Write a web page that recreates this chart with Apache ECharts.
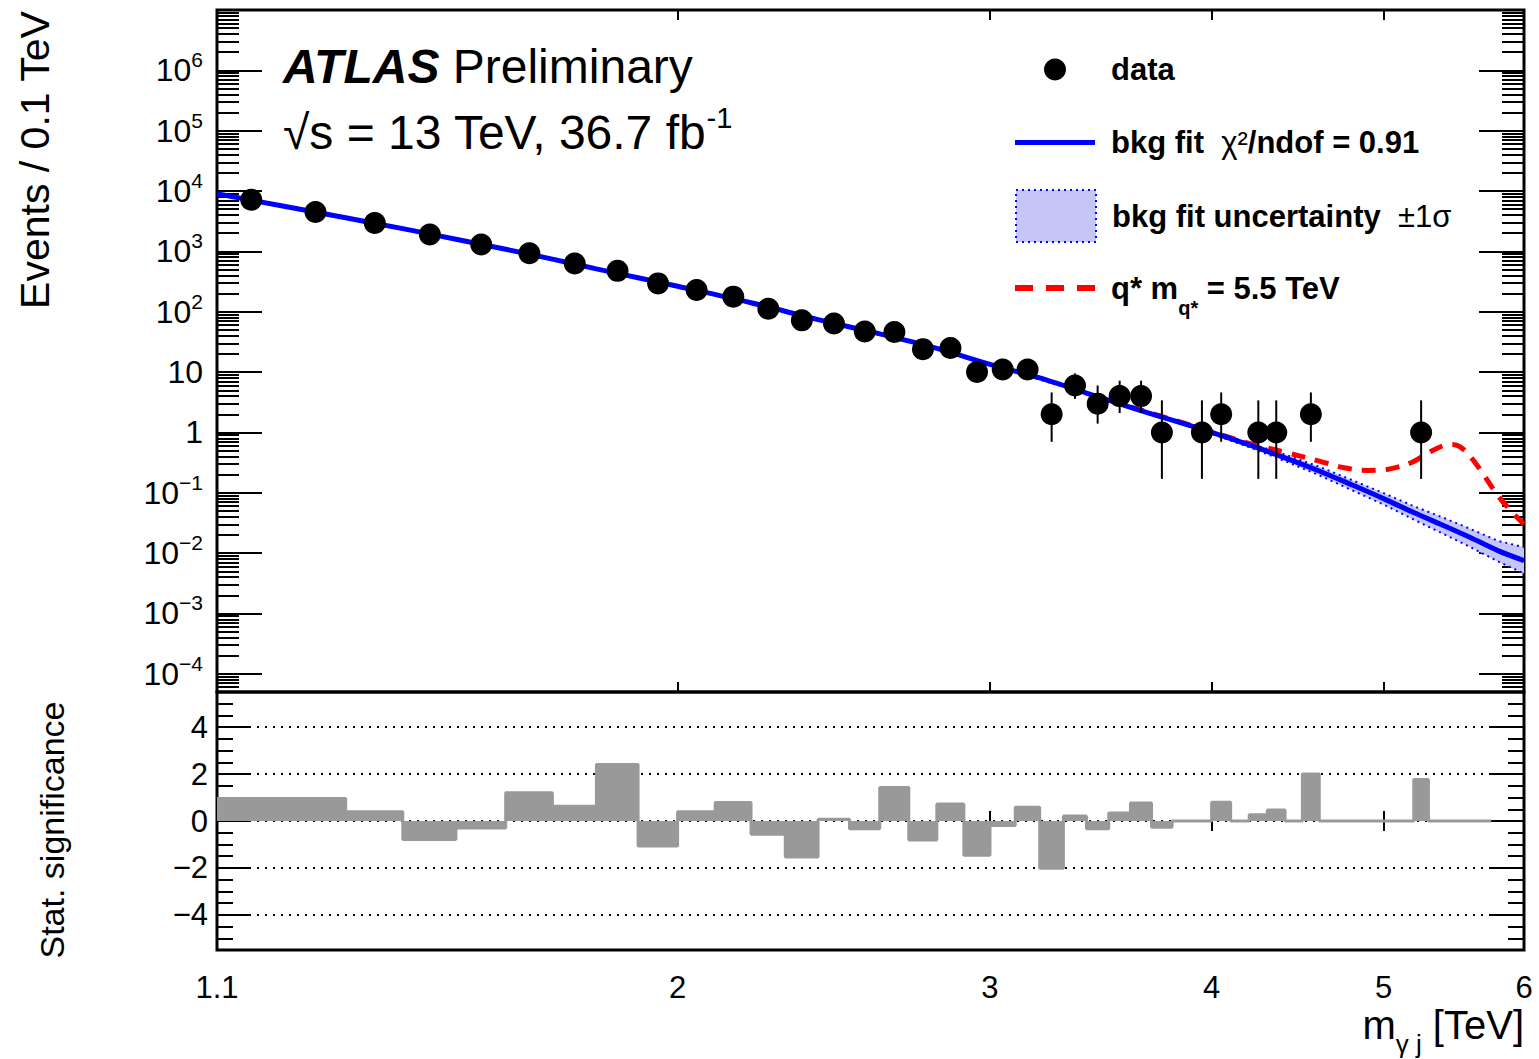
<!DOCTYPE html>
<html>
<head>
<meta charset="utf-8">
<script src="https://cdn.jsdelivr.net/npm/echarts@6/dist/echarts.min.js"></script>
<style>html,body{margin:0;padding:0;background:#fff}#main{width:1539px;height:1059px}</style>
</head>
<body>
<div id="main"></div>
<script>
var FONT = "'Liberation Sans', Arial, Helvetica, sans-serif";

// data points (bin centres, TeV) and event counts
var pointMass = [1.15, 1.25, 1.35, 1.45, 1.55, 1.65, 1.75, 1.85, 1.95, 2.05, 2.15, 2.25, 2.35, 2.45, 2.55, 2.65, 2.75, 2.85, 2.95, 3.05, 3.15, 3.25, 3.35, 3.45, 3.55, 3.65, 3.75, 3.95, 4.05, 4.25, 4.35, 4.55, 5.25];
var pointCounts = [7180, 4490, 2950, 1900, 1300, 934, 630, 476, 295, 229, 178, 112, 72, 64, 47, 46, 24, 25, 10, 11, 11, 2, 6, 3, 4, 4, 1, 1, 2, 1, 1, 2, 1];
var errLow = [7095, 4423, 2896, 1856, 1264, 903, 605, 454, 278, 214, 165, 102, 64, 56, 40, 39, 19, 20, 7, 8, 8, 0.7, 3.6, 1.4, 2.1, 2.1, 0.17, 0.17, 0.7, 0.17, 0.17, 0.7, 0.17];
var errHigh = [7265, 4557, 3004, 1944, 1336, 965, 655, 498, 312, 244, 191, 123, 81, 73, 55, 53, 29, 30, 14, 15, 15, 4.6, 9.5, 6.0, 7.2, 7.2, 3.4, 3.4, 4.6, 3.4, 3.4, 4.6, 3.4];

// background fit
var fitMass = [1.1, 1.2, 1.3, 1.4, 1.5, 1.6, 1.7, 1.8, 1.9, 2.0, 2.2, 2.4, 2.6, 2.8, 3.0, 3.2, 3.4, 3.6, 3.8, 4.0, 4.2, 4.4, 4.6, 4.8, 5.0, 5.2, 5.4, 5.6, 5.8, 6.0];
var fitEvents = [9000, 5600, 3600, 2380, 1590, 1085, 743, 513, 366, 264, 141, 74, 43, 24.7, 13.4, 8.0, 4.5, 2.6, 1.6, 1.0, 0.62, 0.38, 0.23, 0.135, 0.08, 0.047, 0.029, 0.018, 0.011, 0.0075];

// fit uncertainty band
var bandMass = [3.0, 3.4, 3.8, 4.0, 4.2, 4.4, 4.6, 4.8, 5.0, 5.2, 5.4, 5.6, 5.8, 6.0];
var bandLow = [13.2, 4.4, 1.55, 0.95, 0.57, 0.335, 0.195, 0.110, 0.064, 0.036, 0.021, 0.0125, 0.0073, 0.0046];
var bandHigh = [13.6, 4.6, 1.66, 1.06, 0.67, 0.43, 0.27, 0.162, 0.099, 0.060, 0.039, 0.025, 0.016, 0.0125];

// q* signal + background, m = 5.5 TeV
var signalMass = [3.6, 3.8, 4.0, 4.2, 4.4, 4.6, 4.75, 4.9, 5.0, 5.1, 5.2, 5.3, 5.4, 5.46, 5.52, 5.6, 5.7, 5.8, 5.9, 6.0];
var signalEvents = [2.65, 1.63, 1.03, 0.66, 0.47, 0.335, 0.26, 0.235, 0.24, 0.27, 0.33, 0.46, 0.6, 0.63, 0.58, 0.39, 0.19, 0.09, 0.05, 0.03];

// lower panel: significance per 0.1 TeV bin
var binLowEdges = [1.1, 1.2, 1.3, 1.4, 1.5, 1.6, 1.7, 1.8, 1.9, 2.0, 2.1, 2.2, 2.3, 2.4, 2.5, 2.6, 2.7, 2.8, 2.9, 3.0, 3.1, 3.2, 3.3, 3.4, 3.5, 3.6, 3.7, 3.8, 3.9, 4.0, 4.1, 4.2, 4.3, 4.4, 4.5, 4.6, 4.7, 4.8, 4.9, 5.0, 5.1, 5.2, 5.3, 5.4, 5.5, 5.6, 5.7];
var significance = [0.96, 0.96, 0.39, -0.79, -0.30, 1.20, 0.63, 2.41, -1.07, 0.39, 0.79, -0.57, -1.53, 0.07, -0.33, 1.43, -0.81, 0.73, -1.46, -0.19, 0.59, -2.01, 0.21, -0.33, 0.34, 0.77, -0.27, 0, 0, 0.80, 0, 0.27, 0.47, 0, 2.0, 0, 0, 0, 0, 0, 0, 1.77, 0, 0, 0, 0, 0];
var histEnd = 5.75;

// axis ticks and labels
var xTickValues = [1.1, 2, 3, 4, 5, 6];
var xTickLabels = ['1.1', '2', '3', '4', '5', '6'];
var yTickValues = [1e-4, 1e-3, 1e-2, 1e-1, 1, 10, 1e2, 1e3, 1e4, 1e5, 1e6];
var yTickLabels = ['10{sup|−4}', '10{sup|−3}', '10{sup|−2}', '10{sup|−1}', '1', '10', '10{sup|2}', '10{sup|3}', '10{sup|4}', '10{sup|5}', '10{sup|6}'];
var sigTickValues = [-4, -2, 0, 2, 4];
var sigTickLabels = ['−4', '−2', '0', '2', '4'];

var yMinor = [];
for (var k = -5; k <= 6; k++) {
  for (var m = 2; m <= 9; m++) {
    var v = m * Math.pow(10, k);
    if (v > 5e-5 && v < 1e7) yMinor.push(v);
  }
}
var sigMinor = [];
for (var s = -5.5; s <= 5.5; s += 0.5) sigMinor.push(s);

var histData = binLowEdges.map(function (x, i) { return [x, significance[i]]; });
histData.push([histEnd, significance[significance.length - 1]]);

var myChart = echarts.init(document.getElementById('main'), null, {renderer: 'svg'});

var tickStyle = {color: '#000', width: 2};

function xAx(grid, pos, labels) {
  return {
    type: 'log', gridIndex: grid, position: pos, min: 1.1, max: 6,
    axisLine: {show: false},
    axisTick: {show: true, inside: true, length: 10, customValues: [2, 3, 4, 5], lineStyle: tickStyle},
    axisLabel: labels ? {
      show: true, customValues: xTickValues, margin: 22, color: '#000', fontSize: 31, fontFamily: FONT,
      formatter: function (v) {
        for (var i = 0; i < xTickValues.length; i++) if (Math.abs(v - xTickValues[i]) < 1e-6) return xTickLabels[i];
        return '';
      }
    } : {show: false},
    splitLine: {show: false}
  };
}

function yLog(pos, values, len, labels) {
  return {
    type: 'log', gridIndex: 0, position: pos, min: 5e-5, max: 1e7,
    axisLine: {show: false},
    axisTick: {show: true, inside: true, length: len, customValues: values, lineStyle: tickStyle},
    axisLabel: labels ? {
      show: true, customValues: yTickValues, margin: 14, color: '#000', fontSize: 32, lineHeight: 42, fontFamily: FONT,
      rich: {sup: {fontSize: 21, verticalAlign: 'top', lineHeight: 21, fontFamily: FONT, color: '#000'}},
      formatter: function (v) {
        for (var i = 0; i < yTickValues.length; i++) if (Math.abs(Math.log10(v) - Math.log10(yTickValues[i])) < 1e-6) return yTickLabels[i];
        return '';
      }
    } : {show: false},
    splitLine: {show: false}
  };
}

function ySig(pos, values, len, labels, grid) {
  return {
    type: 'value', gridIndex: 1, position: pos, min: -5.5, max: 5.5,
    axisLine: {show: false},
    axisTick: {show: true, inside: true, length: len, customValues: values, lineStyle: tickStyle},
    axisLabel: labels ? {
      show: true, customValues: sigTickValues, margin: 9, color: '#000', fontSize: 31, fontFamily: FONT,
      formatter: function (v) {
        for (var i = 0; i < sigTickValues.length; i++) if (Math.abs(v - sigTickValues[i]) < 1e-6) return sigTickLabels[i];
        return '';
      }
    } : {show: false},
    splitLine: grid ? {show: true, lineStyle: {color: '#000', width: 2, type: [2, 6]}} : {show: false}
  };
}

var legendText = {color: '#000', fontSize: 31, fontWeight: 'bold', fontFamily: FONT, padding: [0, 0, 0, 11],
  rich: {
    sym: {fontSize: 31, fontWeight: 'normal', fontFamily: FONT, color: '#000'},
    sub: {fontSize: 20, fontWeight: 'bold', fontFamily: FONT, color: '#000', verticalAlign: 'bottom', lineHeight: 20}
  }
};
var legendLabels = {
  'data': 'data',
  'bkg fit': 'bkg fit  {sym|χ²}/ndof = 0.91',
  'bkg fit uncertainty': 'bkg fit uncertainty  {sym|±1σ}',
  'q*': 'q* m{sub|q*} = 5.5 TeV'
};
function legendFmt(name) { return legendLabels[name]; }

option = {
  animation: false,
  backgroundColor: '#fff',
  grid: [
    {left: 217, top: 10, width: 1307, height: 682, show: true, borderColor: '#000', borderWidth: 3, backgroundColor: 'rgba(0,0,0,0)'},
    {left: 217, top: 692, width: 1307, height: 258, show: true, borderColor: '#000', borderWidth: 3, backgroundColor: 'rgba(0,0,0,0)'}
  ],
  xAxis: [
    xAx(0, 'bottom', false),
    xAx(0, 'top', false),
    xAx(1, 'bottom', true),
    xAx(1, 'top', false)
  ],
  yAxis: [
    yLog('left', yTickValues, 45, true),
    yLog('left', yMinor, 22, false),
    yLog('right', yTickValues, 45, false),
    yLog('right', yMinor, 22, false),
    ySig('left', sigTickValues, 33, true, true),
    ySig('left', sigMinor, 16, false, false),
    ySig('right', sigTickValues, 35, false, false),
    ySig('right', sigMinor, 16, false, false)
  ],
  legend: [
    {data: [{name: 'data', icon: 'circle'}], left: 1044, top: 54, padding: 0, itemWidth: 80, itemHeight: 22, selectedMode: false, textStyle: legendText, formatter: legendFmt},
    {data: [{name: 'bkg fit', icon: 'rect'}], left: 1015, top: 127, padding: 0, itemWidth: 80, itemHeight: 5, selectedMode: false, textStyle: legendText, formatter: legendFmt},
    {data: [{name: 'bkg fit uncertainty', icon: 'rect', itemStyle: {color: '#c6c6f6', borderColor: '#0000ff', borderWidth: 2, borderType: [2, 4]}}], left: 1015, top: 189, padding: 0, itemWidth: 80, itemHeight: 52, selectedMode: false, textStyle: legendText, formatter: legendFmt},
    {data: [{name: 'q*', icon: 'path://M0 0H18V6H0Z M31 0H49V6H31Z M62 0H80V6H62Z'}], left: 1015, top: 258, padding: 0, itemWidth: 80, itemHeight: 6, selectedMode: false, textStyle: Object.assign({}, legendText, {lineHeight: 60}), formatter: legendFmt}
  ],
  graphic: [
    {type: 'text', left: 283, top: 42, style: {text: '{a|ATLAS} Preliminary', fill: '#000', fontSize: 48, fontFamily: FONT,
      rich: {a: {fontSize: 48, fontStyle: 'italic', fontWeight: 'bold', fontFamily: FONT, fill: '#000'}}}},
    {type: 'text', left: 283, top: 103, style: {text: '√s = 13 TeV, 36.7 fb{sup|-1}', fill: '#000', fontSize: 48, lineHeight: 58, fontFamily: FONT,
      rich: {sup: {fontSize: 29, verticalAlign: 'top', lineHeight: 29, fontFamily: FONT, fill: '#000'}}}},
    {type: 'text', x: 35, y: 160, rotation: Math.PI / 2, style: {text: 'Events / 0.1 TeV', fill: '#000', fontSize: 41, fontFamily: FONT, align: 'center', verticalAlign: 'middle'}},
    {type: 'text', x: 52, y: 830, rotation: Math.PI / 2, style: {text: 'Stat. significance', fill: '#000', fontSize: 34, fontFamily: FONT, align: 'center', verticalAlign: 'middle'}},
    {type: 'text', right: 15, top: 993, style: {text: 'm{sub|γ j} [TeV]', fill: '#000', fontSize: 40, lineHeight: 64, fontFamily: FONT,
      rich: {sub: {fontSize: 26, verticalAlign: 'bottom', lineHeight: 26, fontFamily: FONT, fill: '#000'}}}}
  ],
  series: [
    {
      name: 'bkg fit uncertainty', type: 'custom', xAxisIndex: 0, yAxisIndex: 0, z: 1,
      itemStyle: {color: '#c6c6f6'},
      data: bandMass.map(function (x, i) { return [x, bandLow[i], bandHigh[i]]; }),
      encode: {x: 0, y: [1, 2]},
      renderItem: function (params, api) {
        if (params.dataIndex !== 0) return;
        var pts = [];
        for (var i = 0; i < bandMass.length; i++) pts.push(api.coord([bandMass[i], bandHigh[i]]));
        for (var j = bandMass.length - 1; j >= 0; j--) pts.push(api.coord([bandMass[j], bandLow[j]]));
        return {type: 'polygon', shape: {points: pts}, style: {fill: '#c6c6f6'}};
      }
    },
    {
      type: 'line', xAxisIndex: 0, yAxisIndex: 0, z: 2, symbol: 'none', silent: true,
      data: bandMass.map(function (x, i) { return [x, bandHigh[i]]; }),
      lineStyle: {color: '#0000ff', width: 2, type: [2, 4]}
    },
    {
      type: 'line', xAxisIndex: 0, yAxisIndex: 0, z: 2, symbol: 'none', silent: true,
      data: bandMass.map(function (x, i) { return [x, bandLow[i]]; }),
      lineStyle: {color: '#0000ff', width: 2, type: [2, 4]}
    },
    {
      name: 'q*', type: 'line', xAxisIndex: 0, yAxisIndex: 0, z: 3, symbol: 'none', smooth: 0.4, color: '#ff0000',
      data: signalMass.map(function (x, i) { return [x, signalEvents[i]]; }),
      lineStyle: {color: '#ff0000', width: 5, type: [14, 10]}
    },
    {
      name: 'bkg fit', type: 'line', xAxisIndex: 0, yAxisIndex: 0, z: 4, symbol: 'none', smooth: 0.3, color: '#0000ff',
      data: fitMass.map(function (x, i) { return [x, fitEvents[i]]; }),
      lineStyle: {color: '#0000ff', width: 5}
    },
    {
      type: 'custom', xAxisIndex: 0, yAxisIndex: 0, z: 5, silent: true,
      data: pointMass.map(function (x, i) { return [x, errLow[i], errHigh[i]]; }),
      encode: {x: 0, y: [1, 2]},
      renderItem: function (params, api) {
        var lo = api.coord([api.value(0), api.value(1)]);
        var hi = api.coord([api.value(0), api.value(2)]);
        return {type: 'line', shape: {x1: lo[0], y1: lo[1], x2: hi[0], y2: hi[1]}, style: {stroke: '#000', lineWidth: 2}};
      }
    },
    {
      name: 'data', type: 'scatter', xAxisIndex: 0, yAxisIndex: 0, z: 6, symbol: 'circle', symbolSize: 22, color: '#000',
      itemStyle: {color: '#000', opacity: 1},
      data: pointMass.map(function (x, i) { return [x, pointCounts[i]]; })
    },
    {
      type: 'line', xAxisIndex: 2, yAxisIndex: 4, z: 3, step: 'end', symbol: 'none', silent: true,
      data: histData,
      lineStyle: {color: '#999999', width: 3},
      areaStyle: {color: '#999999', opacity: 1, origin: 'auto'}
    }
  ]
};

myChart.setOption(option);
</script>
</body>
</html>
